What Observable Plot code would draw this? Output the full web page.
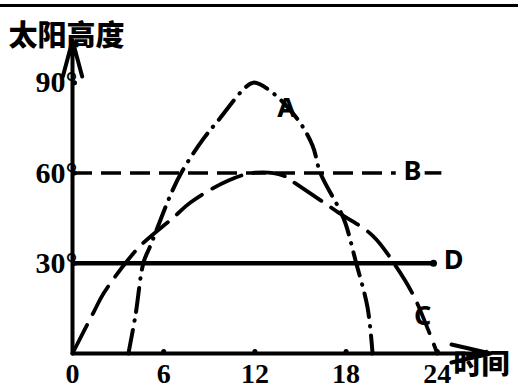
<!DOCTYPE html>
<html><head><meta charset="utf-8">
<script src="https://cdn.jsdelivr.net/npm/d3@7"></script>
<script src="https://cdn.jsdelivr.net/npm/@observablehq/plot@0.6"></script>
<style>
html,body{margin:0;padding:0;background:#fff;}
#wrap{position:relative;width:518px;height:389px;overflow:hidden;background:#fff;}
#wrap svg{position:absolute;left:0;top:0;}
#topline{position:absolute;left:0;top:4px;width:518px;height:0;border-top:3px solid #000;z-index:2;}
</style></head><body>
<div id="wrap"></div>
<script>
// axis ticks
const xTicks = [0, 6, 12, 18, 24];
const yTicks = [30, 60, 90];
const xAxisEnd = 27.5;
const yAxisEnd = 104;

// Curve A (dash-dot)
const aHour = [3.68, 4.14, 4.67, 5.13, 6.58, 7.24, 8.62, 9.74, 11.18, 11.9, 13.22, 14.87, 15.79, 16.32, 17.5, 17.96, 18.62, 19.41, 19.74];
const aAlt  = [0, 12.6, 30.2, 35.9, 54.2, 60.8, 71.4, 78.4, 87.4, 90, 86.4, 77.4, 69.1, 59.8, 48.5, 43.2, 30.9, 15.3, 0];

// Curve C (dashed)
const cHour = [0, 1.38, 2.04, 3.62, 4.61, 6.64, 7.76, 10.26, 12.04, 13.88, 14.67, 16.64, 17.5, 19.74, 21.25, 22.43, 23.42, 24];
const cAlt  = [0, 13.6, 19.9, 30.9, 36.5, 45.2, 50.2, 57.5, 60.1, 59.1, 56.5, 49.8, 46.8, 39.2, 29.2, 19.3, 7.6, 0];

// Line B (dashed, 60°) segments
const bStart = [0, 23.2];
const bEnd   = [21.3, 24.3];
const bAlt   = 60;

// Line D (solid, 30°)
const dStart = [0];
const dEnd   = [23.75];
const dAlt   = 30;

// Curve labels
const labels     = ["A", "B", "C", "D"];
const labelHour  = [14.08, 22.37, 23.03, 25.07];
const labelAlt   = [81.4, 60.4, 12.3, 30.9];
const labelFont  = ["Liberation Serif", "Liberation Serif", "Liberation Sans", "Liberation Sans"];

const titleText = "太阳高度";
const xLabelText = "时间";

const rows = (xs, ys) => xs.map((x, i) => ({x, y: ys[i]}));
const segs = (s, e, y) => s.map((x1, i) => ({x1, x2: e[i], y}));

const plot = Plot.plot({
  width: 518, height: 389,
  marginLeft: 72, marginRight: 28, marginTop: 40, marginBottom: 36,
  x: {domain: [0, xAxisEnd], axis: null},
  y: {domain: [0, yAxisEnd], axis: null},
  style: {background: "transparent"},
  marks: [
    // axes with arrows
    Plot.arrow([{x1: 0, y1: 0, x2: 0, y2: yAxisEnd}], {x1: "x1", y1: "y1", x2: "x2", y2: "y2", stroke: "#000", strokeWidth: 4, headLength: 14, headAngle: 30}),
    Plot.arrow([{x1: 0, y1: 0, x2: xAxisEnd, y2: 0}], {x1: "x1", y1: "y1", x2: "x2", y2: "y2", stroke: "#000", strokeWidth: 4, headLength: 15, headAngle: 26}),
    // tick bumps
    Plot.dot(xTicks.slice(1), {x: d => d, y: 0, r: 2.5, dy: -2, fill: "#000"}),
    Plot.dot(yTicks, {x: 0, y: d => d, r: 2.5, dx: 2, fill: "#000"}),
    // lines
    Plot.ruleY(segs(dStart, dEnd, dAlt), {x1: "x1", x2: "x2", y: "y", stroke: "#000", strokeWidth: 4.5}),
    Plot.dot(segs(dStart, dEnd, dAlt), {x: "x2", y: "y", r: 3.5, fill: "#000"}),
    Plot.ruleY(segs(bStart, bEnd, bAlt), {x1: "x1", x2: "x2", y: "y", stroke: "#000", strokeWidth: 3.5, strokeDasharray: "20,9"}),
    Plot.line(rows(cHour, cAlt), {x: "x", y: "y", curve: "catmull-rom", stroke: "#000", strokeWidth: 3.8, strokeDasharray: "32,12"}),
    Plot.line(rows(aHour, aAlt), {x: "x", y: "y", curve: "catmull-rom", stroke: "#000", strokeWidth: 4, strokeDasharray: "24,9,0.5,9", strokeLinecap: "round"}),
    // curve labels
    Plot.text(labels, {x: (d, i) => labelHour[i], y: (d, i) => labelAlt[i], text: d => d, fontSize: 27, fontWeight: "bold", fontFamily: (d, i) => labelFont[i], fill: "#000"}),
    // tick labels
    Plot.text(xTicks, {x: d => d, y: 0, text: d => String(d), dy: 21, fontSize: 28, fontWeight: "bold", fontFamily: "Liberation Serif", fill: "#000"}),
    Plot.text(yTicks, {x: 0, y: d => d, text: d => d + "°", textAnchor: "end", dx: 5, fontSize: 30, fontWeight: "bold", fontFamily: "Liberation Serif", fill: "#000"}),
    // title and x label
    Plot.text([titleText], {frameAnchor: "top-left", text: d => d, textAnchor: "start", dx: -64, dy: -15, fontSize: 29, fontWeight: 900, fontFamily: "Noto Sans CJK SC", fill: "#000"}),
    Plot.text([xLabelText], {frameAnchor: "bottom-right", text: d => d, textAnchor: "start", dx: -37, dy: 20, fontSize: 28, fontWeight: 900, fontFamily: "Noto Sans CJK SC", fill: "#000"})
  ]
});
const wrap = document.getElementById("wrap");
wrap.appendChild(plot);
const tl = document.createElement("div");
tl.id = "topline";
wrap.appendChild(tl);
</script>
</body></html>
